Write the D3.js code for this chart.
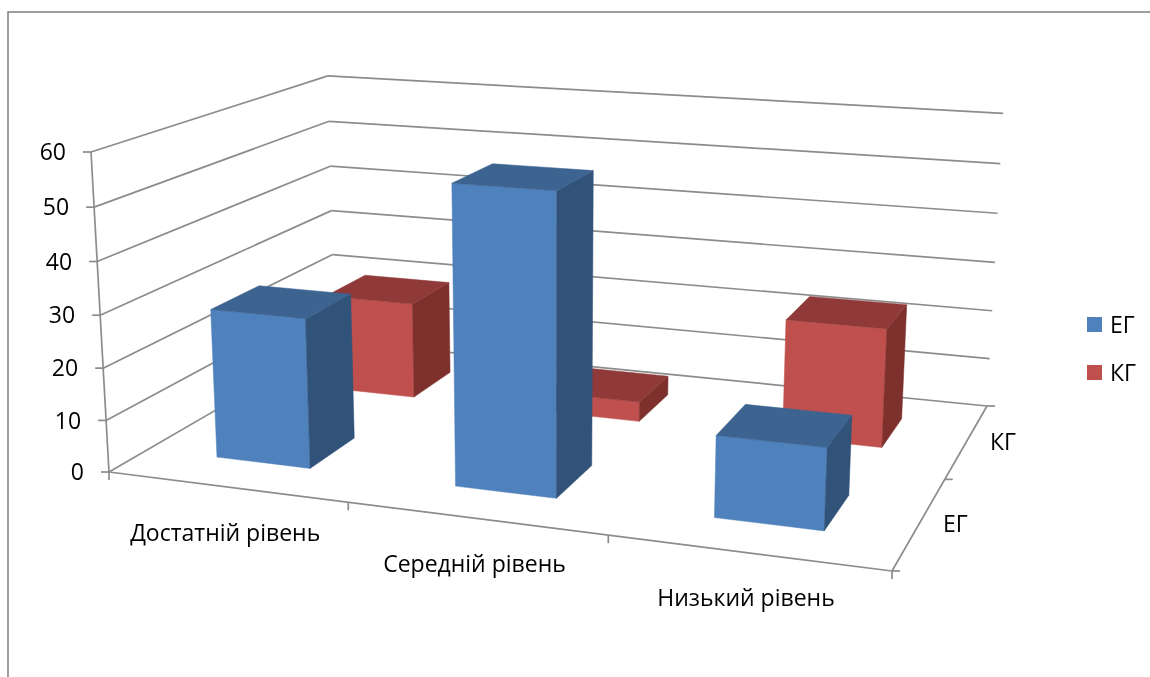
<!DOCTYPE html>
<html><head><meta charset="utf-8">
<script src="https://cdn.jsdelivr.net/npm/d3@7/dist/d3.min.js"></script>
<style>
html,body{margin:0;padding:0;background:#fff;overflow:hidden}
svg{display:block;filter:blur(0.4px)}
text{font-family:"Open Sans",sans-serif;fill:#000}
</style></head><body>
<svg id="c" width="1150" height="677"></svg>
<script>
const categories = ["Достатній рівень","Середній рівень","Низький рівень"];
const seriesNames = ["ЕГ","КГ"];
const valuesEG = [28.8,55.9,15];
const valuesKG = [19.8,4,23.5];
const valueTicks = [0,10,20,30,40,50,60];
const seriesValues = {"ЕГ":valuesEG,"КГ":valuesKG};
const faceColors = {"ЕГ":{front:"#4F81BD",top:"#3D6391",side:"#325379"},"КГ":{front:"#C0504D",top:"#8F3A38",side:"#7E302D"}};

// projection anchors: floor corners and the vertical vanishing point
const floorFL=[109,472],floorFR=[892,571],floorBR=[987,406],floorBL=[335,341];
const topFLy=152, vanish=[551,8331];

function makeProjection(){
  const [x0,y0]=floorFL,[x1,y1]=floorFR,[x2,y2]=floorBR,[x3,y3]=floorBL;
  const dx1=x1-x2,dx2=x3-x2,sx=x0-x1+x2-x3,dy1=y1-y2,dy2=y3-y2,sy=y0-y1+y2-y3;
  const den=dx1*dy2-dx2*dy1;
  const g=(sx*dy2-dx2*sy)/den,h=(dx1*sy-sx*dy1)/den;
  const a=x1-x0+g*x1,b=x3-x0+h*x3,c=x0,d=y1-y0+g*y1,e=y3-y0+h*y3,f=y0;
  const k=(topFLy-y0)/(vanish[1]-topFLy);
  return (u,v,t)=>{
    const W=g*u+h*v+1+k*t;
    return [(a*u+b*v+c+k*vanish[0]*t)/W,(d*u+e*v+f+k*vanish[1]*t)/W];
  };
}
const proj=makeProjection();
const valueScale=d3.scaleLinear().domain([0,60]).range([0,1]);
const catBand=d3.scaleBand().domain(categories).range([0,1]).paddingInner(0.6).paddingOuter(0.3);
const depthBand=d3.scaleBand().domain(seriesNames).range([0,1]).paddingInner(0.6).paddingOuter(0.3);
const catStep=catBand.step(), depthStep=depthBand.step();

const svg=d3.select("#c");
const lineGen=d3.line();
const gridColor="#8c8c8c";

svg.append("rect").attr("x",8).attr("y",12).attr("width",1160).attr("height",680)
  .attr("fill","none").attr("stroke","#868686").attr("stroke-width",1.6);

const grid=svg.append("g").attr("fill","none").attr("stroke",gridColor).attr("stroke-width",1.7);
function seg(g,a,b){g.append("path").attr("d",lineGen([a,b]));}
valueTicks.forEach(w=>{
  const t=valueScale(w);
  seg(grid,proj(0,0,t),proj(0,1,t));
  seg(grid,proj(0,1,t),proj(1,1,t));
  const p=proj(0,0,t);
  seg(grid,[p[0]-8,p[1]],p);
  svg.append("text").attr("x",p[0]-25).attr("y",p[1]).attr("dy","0.36em")
    .attr("text-anchor","end").attr("font-size",23).text(w);
});
seg(grid,proj(0,0,0),proj(0,0,1));
seg(grid,proj(0,0,0),proj(1,0,0));
seg(grid,proj(1,0,0),proj(1,1,0));
d3.range(categories.length+1).forEach(i=>{
  const p=proj(i*catStep,0,0);
  seg(grid,p,[p[0],p[1]+8]);
});
d3.range(seriesNames.length+1).forEach(i=>{
  const p=proj(1,i*depthStep,0);
  seg(grid,p,[p[0]+8,p[1]]);
});

// bars: back row first, left to right
[...seriesNames].reverse().forEach(s=>{
  const v0=depthBand(s),v1=v0+depthBand.bandwidth();
  categories.forEach((c,i)=>{
    const u0=catBand(c),u1=u0+catBand.bandwidth(),t=valueScale(seriesValues[s][i]);
    const col=faceColors[s];
    const face=(pts,fill)=>svg.append("path").attr("d",lineGen(pts)+"Z").attr("fill",fill).attr("stroke",fill).attr("stroke-width",0.5);
    face([proj(u0,v0,0),proj(u1,v0,0),proj(u1,v0,t),proj(u0,v0,t)],col.front);
    face([proj(u1,v0,0),proj(u1,v1,0),proj(u1,v1,t),proj(u1,v0,t)],col.side);
    face([proj(u0,v0,t),proj(u1,v0,t),proj(u1,v1,t),proj(u0,v1,t)],col.top);
  });
});

const catOffset=45.5;
categories.forEach(c=>{
  const p=proj(catBand(c)+catBand.bandwidth()/2,0,0);
  svg.append("text").attr("x",p[0]-1).attr("y",p[1]+catOffset).attr("dy","0.36em")
    .attr("text-anchor","middle").attr("font-size",23).text(c);
});
seriesNames.forEach(s=>{
  const p=proj(1,depthBand(s)+depthBand.bandwidth()/2,0);
  svg.append("text").attr("x",p[0]+23).attr("y",p[1]+1).attr("dy","0.36em")
    .attr("font-size",23).text(s);
});

const legendColor=d3.scaleOrdinal().domain(seriesNames).range(seriesNames.map(s=>faceColors[s].front));
const legendY=d3.scalePoint().domain(seriesNames).range([324.5,372.5]);
seriesNames.forEach(s=>{
  svg.append("rect").attr("x",1087).attr("y",legendY(s)-7.5).attr("width",15).attr("height",15).attr("fill",legendColor(s));
  svg.append("text").attr("x",1110).attr("y",legendY(s)).attr("dy","0.36em").attr("font-size",23).text(s);
});
</script></body></html>
